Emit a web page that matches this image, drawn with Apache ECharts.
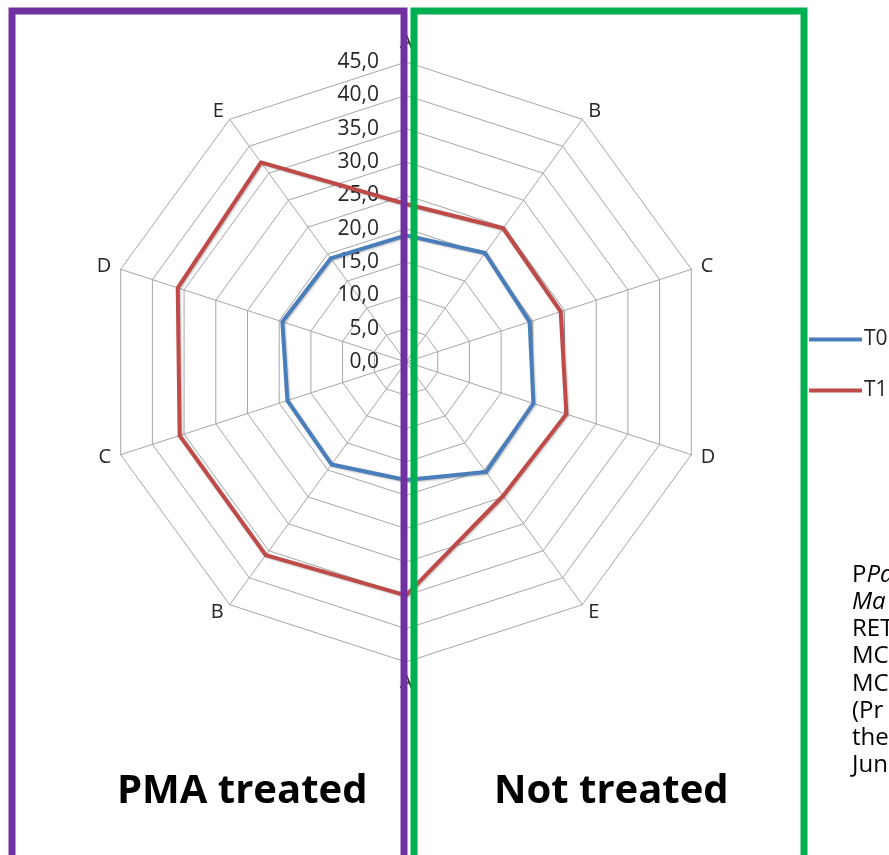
<!DOCTYPE html>
<html>
<head>
<meta charset="utf-8">
<script src="https://cdn.jsdelivr.net/npm/echarts@6/dist/echarts.min.js"></script>
<style>
  html, body { margin: 0; padding: 0; background: #ffffff; }
  #chart { width: 889px; height: 855px; }
</style>
</head>
<body>
<div id="chart"></div>
<script>
// Spoke labels, listed clockwise starting from the top
const axisNames = ['A', 'B', 'C', 'D', 'E', 'A', 'B', 'C', 'D', 'E'];
// Values per spoke, same clockwise order
const seriesNames = ['T0', 'T1'];
const t0Values = [19.0, 20.2, 19.5, 20.1, 20.4, 17.7, 19.0, 18.7, 19.5, 19.2];
const t1Values = [23.7, 24.8, 24.4, 25.3, 24.8, 35.0, 35.8, 35.7, 36.0, 37.0];
// Scale of the radial axis
const axisMin = 0;
const axisMax = 45;
const axisStep = 5;
// Panel captions and side note lines
const panelLeftTitle = 'PMA treated';
const panelRightTitle = 'Not treated';
const noteLines = ['P{i|Pa}', '{i|Ma}', 'RET', 'MC', 'MC', '(Pr', 'the', 'Jun'];

const FONT = '"Open Sans", "Noto Sans", sans-serif';
const colors = ['#4a7ebb', '#be4b48'];

// ECharts lays indicators out counter-clockwise, so walk the clockwise lists backwards
const order = axisNames.map((_, i) => (axisNames.length - i) % axisNames.length);
const fmt = v => Number(v).toFixed(1).replace('.', ',');

const indicator = order.map((k, i) => {
  const item = { name: axisNames[k], min: axisMin, max: axisMax };
  if (i === 0) {
    item.axisLabel = {
      show: true, showMinLabel: true, showMaxLabel: true,
      formatter: fmt, color: '#262626', fontFamily: FONT, fontSize: 21, margin: 27
    };
  }
  return item;
});

const valueSets = [t0Values, t1Values];

const chart = echarts.init(document.getElementById('chart'), null, { renderer: 'canvas' });
chart.setOption({
  backgroundColor: '#ffffff',
  animation: false,
  color: colors,
  legend: {
    orient: 'vertical',
    left: 804,
    top: 324,
    itemWidth: 53,
    itemHeight: 4,
    itemGap: 30,
    icon: 'rect',
    data: seriesNames,
    textStyle: { fontFamily: FONT, fontSize: 21, color: '#262626', padding: [0, 0, 0, -3] }
  },
  radar: {
    center: [406, 362],
    radius: 300,
    startAngle: 90,
    shape: 'polygon',
    splitNumber: (axisMax - axisMin) / axisStep,
    indicator: indicator,
    axisName: { color: '#262626', fontFamily: FONT, fontSize: 20 },
    nameGap: 10,
    axisLine: { lineStyle: { color: '#a6a6a6', width: 1 } },
    splitLine: { lineStyle: { color: '#a6a6a6', width: 1 } },
    splitArea: { show: false },
    axisTick: { show: false },
    axisLabel: { show: false }
  },
  series: [{
    type: 'radar',
    symbol: 'none',
    data: seriesNames.map((name, s) => ({
      name: name,
      value: order.map(k => valueSets[s][k]),
      lineStyle: {
        color: colors[s], width: 4,
        shadowColor: 'rgba(0,0,0,0.25)', shadowBlur: 2, shadowOffsetX: 1, shadowOffsetY: 1
      },
      itemStyle: { color: colors[s] }
    }))
  }],
  graphic: [
    {
      type: 'rect', z: 100,
      shape: { x: 12, y: 11, width: 392, height: 870 },
      style: { fill: null, stroke: '#7030a0', lineWidth: 7 }
    },
    {
      type: 'rect', z: 100,
      shape: { x: 414, y: 11, width: 390, height: 870 },
      style: { fill: null, stroke: '#00b050', lineWidth: 7 }
    },
    {
      type: 'text', z: 101, left: 117, top: 772,
      style: { text: panelLeftTitle, font: 'bold 40px ' + FONT, fill: '#000000' }
    },
    {
      type: 'text', z: 101, left: 494, top: 772,
      style: { text: panelRightTitle, font: 'bold 40px ' + FONT, fill: '#000000' }
    },
    ...noteLines.map((t, i) => ({
      type: 'text', z: 101, left: 852, top: 563 + i * 27.2,
      style: {
        text: t,
        fontFamily: FONT, fontSize: 24, fill: '#000000',
        rich: { i: { fontFamily: FONT, fontSize: 24, fontStyle: 'italic', fill: '#000000' } }
      }
    }))
  ]
});
</script>
</body>
</html>
